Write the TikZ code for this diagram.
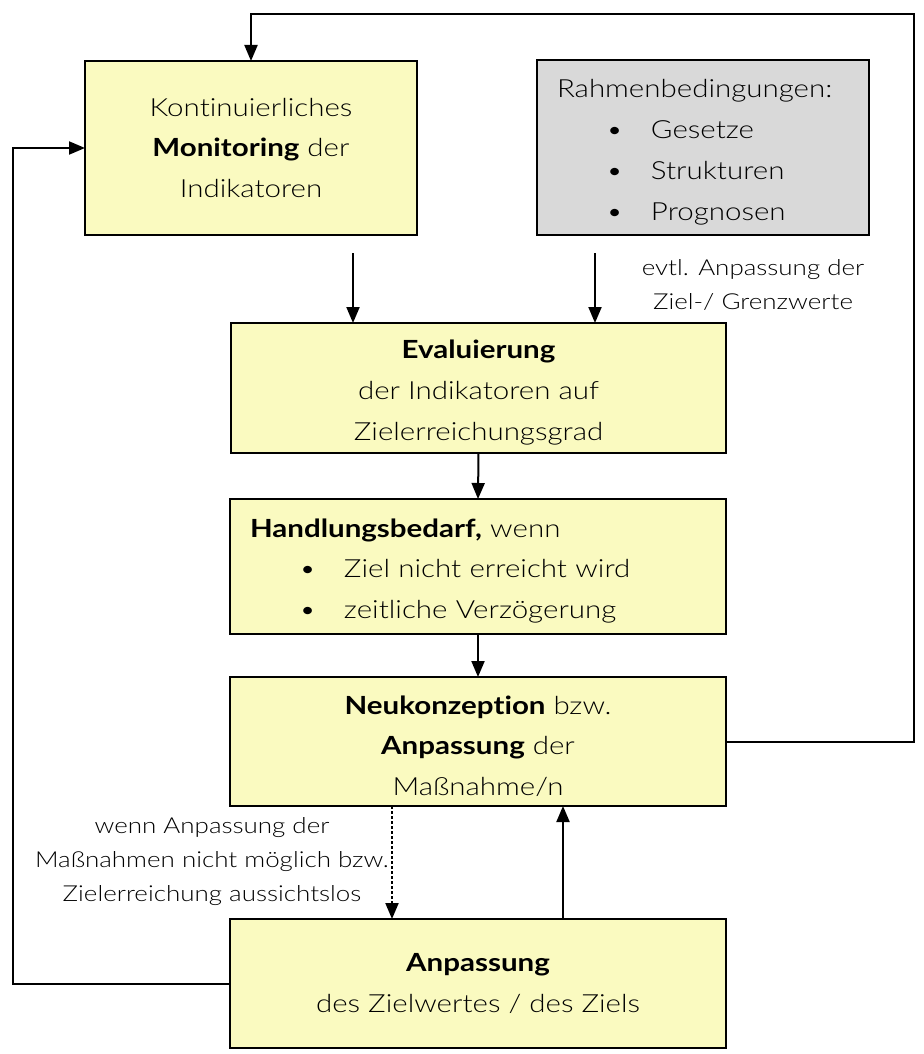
\documentclass[tikz,border=0pt]{standalone}
\usepackage{fontspec}
\setmainfont{Lato}[UprightFont=* Light, BoldFont=* Bold, FakeStretch=1.18, Ligatures=NoCommon]
\usetikzlibrary{arrows.meta}
\definecolor{boxyellow}{RGB}{250,250,192}
\definecolor{boxgray}{RGB}{217,217,217}
\tikzset{
  box/.style={draw=black, line width=1pt, fill=boxyellow, anchor=north west,
    inner sep=0pt, outer sep=0pt, align=center,
    font=\fontsize{12.5}{20.3}\selectfont},
  leftbox/.style={box, align=left, inner xsep=10pt},
  arr/.style={line width=1pt, -{Triangle[length=8pt,width=6.5pt]}},
  lbl/.style={align=center, font=\fontsize{11}{17}\selectfont, inner sep=1pt},
}
\newcommand{\bitem}[1]{\hspace*{24.5pt}\makebox[22.5pt][l]{\textbullet}#1}
\newcommand{\tallstrut}{\rule{0pt}{13.8pt}}
\begin{document}
\begin{tikzpicture}[x=0.5pt,y=-0.5pt]
\useasboundingbox (0,0) rectangle (923,1054);
% boxes
\node[box, minimum width=166pt, minimum height=87pt] (mon) at (85,61)
  {Kontinuierliches\\\textbf{Monitoring} der\\Indikatoren};
\node[leftbox, fill=boxgray, text width=146pt, minimum height=87.5pt,
  font=\fontsize{12.5}{20.5}\selectfont] (rah) at (537,60)
  {\tallstrut Rahmenbedingungen:\\\bitem{Gesetze}\\\bitem{Strukturen}\\\bitem{Prognosen}};
\node[box, minimum width=247.5pt, minimum height=65pt] (eval) at (231,323)
  {\tallstrut\textbf{Evaluierung}\\der Indikatoren auf\\Zielerreichungsgrad};
\node[leftbox, text width=228pt, minimum height=67.5pt] (hand) at (230,499)
  {\tallstrut\textbf{Handlungsbedarf,} wenn\\\bitem{Ziel nicht erreicht wird}\\\bitem{zeitliche Verzögerung}};
\node[box, minimum width=248pt, minimum height=64.5pt] (neu) at (230,677)
  {\tallstrut\textbf{Neukonzeption} bzw.\\\textbf{Anpassung} der\\Maßnahme/n};
\node[box, minimum width=248pt, minimum height=64.5pt] (anp) at (230,919)
  {\textbf{Anpassung}\\des Zielwertes / des Ziels};
% labels
\node[lbl] (l1) at (753,285) {evtl. Anpassung der\\Ziel-/ Grenzwerte};
\node[lbl] (l2) at (212,862) {wenn Anpassung der\\Maßnahmen nicht möglich bzw.\\Zielerreichung aussichtslos};
% coordinates
\coordinate (tr) at (914,14);
\coordinate (bl) at (13,983);
\coordinate (m1) at (353,253);
\coordinate (r1) at (595,253);
\coordinate (d1) at (392,0);
\coordinate (u1) at (563,0);
% connectors
\draw[arr] (neu.east) -| (tr) -| (mon.north);
\draw[arr] (anp.west) -- (anp.west -| bl) |- (mon.west);
\draw[arr] (m1) -- (m1 |- eval.north);
\draw[arr] (r1) -- (r1 |- eval.north);
\draw[arr] (eval.south) -- (hand.north);
\draw[arr] (hand.south) -- (neu.north);
\draw[arr, dash pattern=on 1.5pt off 1pt] (neu.south -| d1) -- (anp.north -| d1);
\draw[arr] (anp.north -| u1) -- (neu.south -| u1);
\end{tikzpicture}
\end{document}
